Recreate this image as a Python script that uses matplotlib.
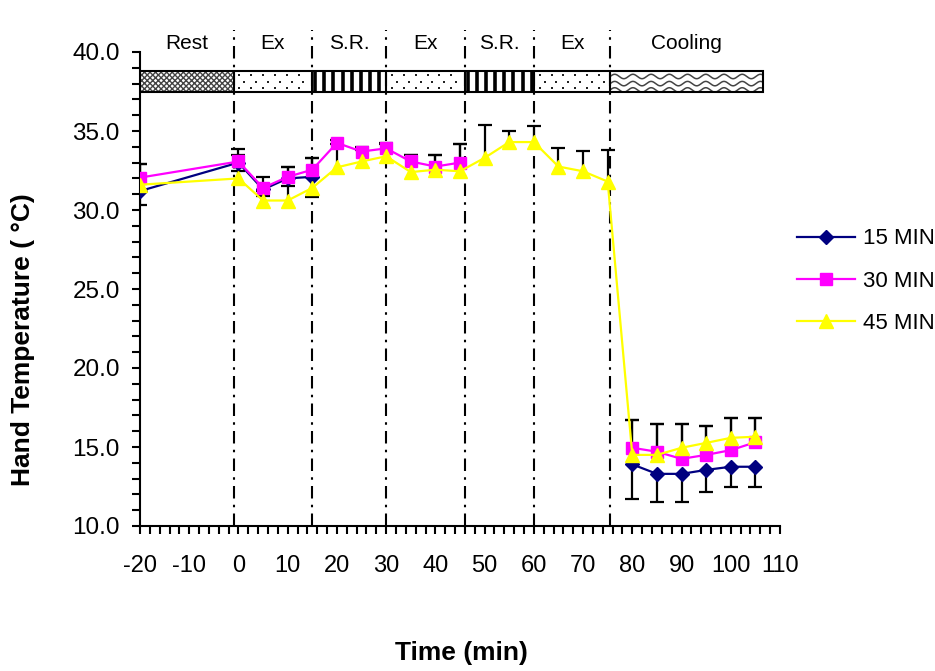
import numpy as np
import matplotlib
matplotlib.use("Agg")
import matplotlib.pyplot as plt
from matplotlib.patches import Rectangle
from matplotlib.ticker import MultipleLocator, FormatStrFormatter

nan = np.nan

# ---------------- data ----------------
time = [-20, 0, 5, 10, 15, 20, 25, 30, 35, 40, 45, 50, 55, 60, 65, 70, 75,
        80, 85, 90, 95, 100, 105]

t15 = [31.2, 33.0, 31.3, 32.0, 32.1,
       nan, nan, nan, nan, nan, nan, nan, nan, nan, nan, nan, nan,
       13.9, 13.3, 13.3, 13.55, 13.75, 13.75]
t30 = [32.05, 33.07, 31.4, 32.1, 32.55, 34.25, 33.7, 33.9, 33.07, 32.75, 33.0,
       nan, nan, nan, nan, nan, nan,
       14.95, 14.7, 14.25, 14.5, 14.8, 15.3]
t45 = [31.6, 32.0, 30.6, 30.6, 31.4, 32.7, 33.07, 33.4, 32.4, 32.55, 32.45,
       33.3, 34.3, 34.3, 32.75, 32.45, 31.8,
       14.5, 14.5, 14.95, 15.26, 15.58, 15.65]

# one-sided error bars (15 MIN: minus, 30/45 MIN: plus)
e15 = [0.87, 0.5, 0.4, 0.5, 1.3,
       nan, nan, nan, nan, nan, nan, nan, nan, nan, nan, nan, nan,
       2.2, 1.8, 1.8, 1.4, 1.25, 1.25]
e30 = [0.85, 0.76, 0.7, 0.65, 0.77, 0.2, 0.3, 0.37, 0.38, 0.7, 1.15,
       nan, nan, nan, nan, nan, nan,
       1.75, 1.76, 2.21, 1.8, 2.05, 1.55]
e45 = [1.3, 1.45, 0.6, 2.15, 1.92, 1.5, 0.7, 0.8, 1.05, 0.9, 1.7,
       2.05, 0.73, 1.0, 1.2, 1.3, 2.0,
       2.2, 1.96, 1.5, 1.04, 1.27, 1.2]

series_labels = ["15 MIN", "30 MIN", "45 MIN"]

phase_names = ["Rest", "Ex", "S.R.", "Ex", "S.R.", "Ex", "Cooling"]
phase_bounds = [-20, -1, 15, 30, 46, 60, 75.5, 106.5]
phase_kinds = ["cross", "dots", "stripes", "dots", "stripes", "dots", "waves"]

# ---------------- figure ----------------
plt.rcParams['font.family'] = ['Liberation Sans', 'DejaVu Sans']
plt.rcParams['axes.unicode_minus'] = False
fig = plt.figure(figsize=(9.35, 6.71), dpi=100)
ax = fig.add_axes([140/935, 1-526/671, 640/935, 474/671])

ax.set_xlim(-20, 110)
ax.set_ylim(10, 40)

# band rectangle
band_lo, band_hi = 37.45, 38.8
for i, kind in enumerate(phase_kinds):
    x0, x1 = phase_bounds[i], phase_bounds[i + 1]
    if kind == "cross":
        r = Rectangle((x0, band_lo), x1 - x0, band_hi - band_lo, facecolor="white",
                      edgecolor="#444444", hatch="xxxxxx", lw=0, zorder=2)
        ax.add_patch(r)
    elif kind == "dots":
        rows = [38.55, 38.12, 37.7]
        for k, yy in enumerate(rows):
            off = 1.0 if k % 2 else 0.0
            xs = np.arange(x0 + 1.2 + off, x1 - 0.5, 2.4)
            ax.plot(xs, np.full_like(xs, yy), linestyle="none", marker="s",
                    ms=1.9, color="#222222", mew=0, zorder=2)
    elif kind == "stripes":
        xs = np.arange(x0 + 0.6, x1 - 0.3, 1.85)
        ax.vlines(xs, band_lo, band_hi, colors="black", lw=2.6, zorder=2)
    elif kind == "waves":
        xx = np.linspace(x0, x1, 600)
        for yy in [38.45, 38.0, 37.6]:
            ax.plot(xx, yy + 0.14 * np.sin(2 * np.pi * (xx - x0) / 3.7),
                    color="#444444", lw=1.1, zorder=2)
    ax.text((x0 + x1) / 2, 40.55, phase_names[i], ha="center", va="center",
            fontsize=15, clip_on=False)
ax.add_patch(Rectangle((phase_bounds[0], band_lo), phase_bounds[-1] - phase_bounds[0],
                       band_hi - band_lo, fill=False, edgecolor="black", lw=1.5, zorder=3))
for b in phase_bounds[1:-1]:
    ax.vlines(b, band_lo, band_hi, colors="black", lw=1.5, zorder=3)

# phase divider lines
for b in phase_bounds[1:-1]:
    ax.plot([b, b], [10, 41.4], color="black", lw=1.5,
            linestyle=(0, (6, 3, 1.2, 3)), clip_on=False, zorder=1)

# error bars
tarr = np.array(time, dtype=float)
def onesided(y, e, sign):
    y = np.array(y, dtype=float)
    e = np.array(e, dtype=float)
    end = y + sign * e
    ax.vlines(tarr, y, end, colors="black", lw=1.6, zorder=4)
    ax.plot(tarr, end, linestyle="none", marker="_", ms=9.5, mew=1.6,
            color="black", zorder=4)

onesided(t15, e15, -1)
onesided(t30, e30, +1)
onesided(t45, e45, +1)

# series
ax.plot(time, t15, color="#000080", lw=1.6, marker="D", ms=7, zorder=5,
        label=series_labels[0])
ax.plot(time, t30, color="#FF00FF", lw=1.6, marker="s", ms=8, zorder=6,
        label=series_labels[1])
ax.plot(time, t45, color="#FFFF00", lw=1.6, marker="^", ms=10, zorder=7,
        label=series_labels[2])

# axes styling
for s in ["top", "right"]:
    ax.spines[s].set_visible(False)
for s in ["left", "bottom"]:
    ax.spines[s].set_linewidth(1.5)
ax.xaxis.set_major_locator(MultipleLocator(10))
ax.xaxis.set_minor_locator(MultipleLocator(2))
ax.yaxis.set_major_locator(MultipleLocator(5))
ax.yaxis.set_minor_locator(MultipleLocator(1))
ax.yaxis.set_major_formatter(FormatStrFormatter("%.1f"))
ax.tick_params(axis="both", which="both", direction="out", width=1.5)
ax.tick_params(axis="x", which="both", length=6, pad=15, labelsize=17)
ax.tick_params(axis="y", which="both", length=5.5, pad=9, labelsize=17.5)

fig.text(23/935, 1-340/671, "Hand Temperature ( °C)", rotation=90, ha="center",
         va="center", fontsize=19, fontweight="bold")
fig.text(461/935, 1-653/671, "Time (min)", ha="center", va="center",
         fontsize=19, fontweight="bold")

fig.legend(loc="center left", bbox_to_anchor=(797/935, 1-281/671), frameon=False,
           fontsize=16, handlelength=2.6, handletextpad=0.35, labelspacing=0.95,
           borderpad=0, borderaxespad=0)

fig.savefig("out.png", dpi=100)
